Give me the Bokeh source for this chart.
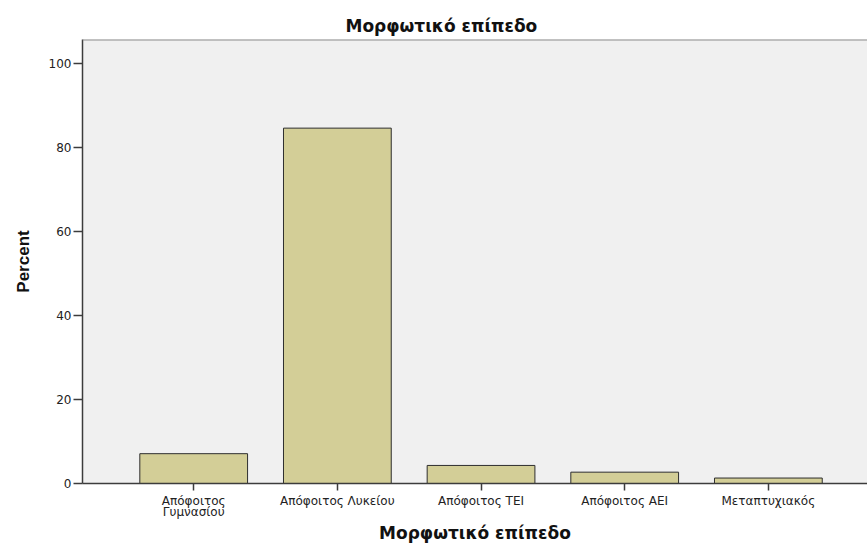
from bokeh.plotting import figure
from bokeh.models import Range1d, FixedTicker, Title, Span
from bokeh.embed import file_html
from bokeh.resources import INLINE

categories = ["Απόφοιτος\nΓυμνασίου", "Απόφοιτος Λυκείου", "Απόφοιτος ΤΕΙ",
              "Απόφοιτος ΑΕΙ", "Μεταπτυχιακός"]
percent = [7.1, 84.6, 4.3, 2.7, 1.3]
y_ticks = [0, 20, 40, 60, 80, 100]
chart_title = "Μορφωτικό επίπεδο"
x_title = "Μορφωτικό επίπεδο"
y_title = "Percent"

positions = list(range(1, len(categories) + 1))

p = figure(width=867, height=546, output_backend="svg", toolbar_location=None,
           x_range=Range1d(0.226, 5.69), y_range=Range1d(0, 105.7),
           min_border_left=82, min_border_right=0, min_border_top=39,
           min_border_bottom=63)

p.background_fill_color = "#F0F0F0"
p.border_fill_color = "white"
p.outline_line_color = None
p.xgrid.visible = False
p.ygrid.visible = False

p.vbar(x=positions, top=percent, width=0.75, fill_color="#D3CE97",
       line_color="#2e2e2e", line_width=1)

top_line = Span(location=105.7, dimension="width", line_color="#8c8c8c", line_width=2)
p.add_layout(top_line)

# axes
axis_col = "#3c3c3c"
p.yaxis.ticker = FixedTicker(ticks=y_ticks)
p.yaxis.minor_tick_line_color = None
p.yaxis.major_tick_out = 9
p.yaxis.major_tick_in = 0
p.yaxis.axis_line_color = axis_col
p.yaxis.axis_line_width = 1.5
p.yaxis.major_tick_line_color = axis_col
p.yaxis.major_tick_line_width = 1.5
p.yaxis.major_label_text_font = "DejaVu Sans"
p.yaxis.major_label_text_font_size = "12px"
p.yaxis.major_label_text_color = "#222222"
p.yaxis.major_label_standoff = 2
p.yaxis.axis_label = y_title
p.yaxis.axis_label_text_font = "Liberation Sans"
p.yaxis.axis_label_text_font_style = "bold"
p.yaxis.axis_label_text_font_size = "17px"
p.yaxis.axis_label_text_color = "#111111"
p.yaxis.axis_label_standoff = 13

p.xaxis.ticker = FixedTicker(ticks=positions)
p.xaxis.major_label_overrides = {pos: c for pos, c in zip(positions, categories)}
p.xaxis.minor_tick_line_color = None
p.xaxis.major_tick_out = 7
p.xaxis.major_tick_in = 0
p.xaxis.axis_line_color = axis_col
p.xaxis.axis_line_width = 1.5
p.xaxis.major_tick_line_color = axis_col
p.xaxis.major_tick_line_width = 1.5
p.xaxis.major_label_text_font = "DejaVu Sans"
p.xaxis.major_label_text_font_size = "12px"
p.xaxis.major_label_text_color = "#222222"
p.xaxis.major_label_text_line_height = 0.85
p.xaxis.major_label_standoff = 3
p.xaxis.axis_label = x_title
p.xaxis.axis_label_text_font = "DejaVu Sans"
p.xaxis.axis_label_text_font_style = "bold"
p.xaxis.axis_label_text_font_size = "17px"
p.xaxis.axis_label_text_color = "#111111"
p.xaxis.axis_label_standoff = 1

p.title = Title(text=chart_title, align="left", offset=263, standoff=8,
                text_font="DejaVu Sans", text_font_style="bold",
                text_font_size="17px", text_color="#111111")

open("out.html", "w").write(file_html(p, INLINE))
